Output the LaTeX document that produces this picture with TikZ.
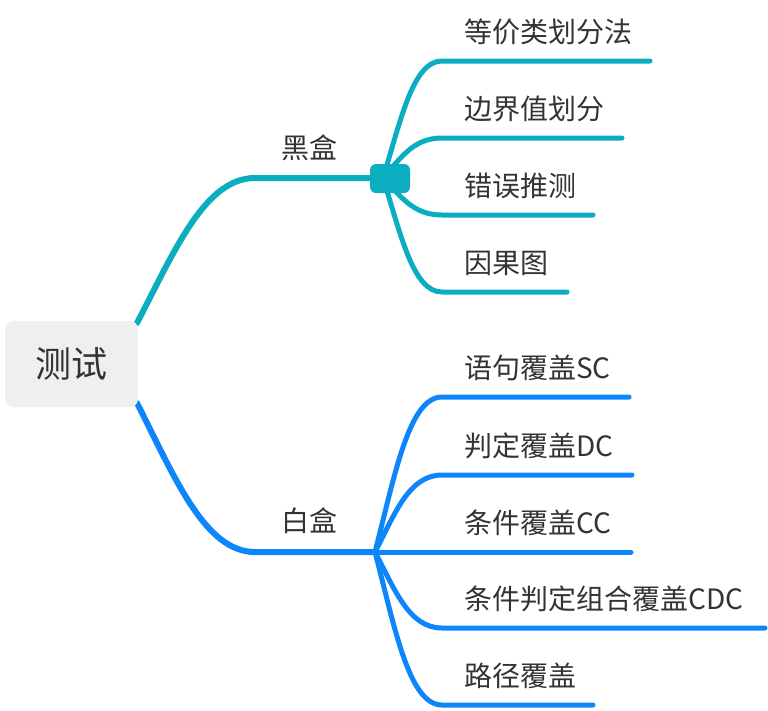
\documentclass[tikz,border=0pt]{standalone}
\usepackage{fontspec}
\setmainfont{Noto Sans CJK SC}
\definecolor{brT}{HTML}{0AAEC0}
\definecolor{brW}{HTML}{0C86FA}
\definecolor{txtc}{HTML}{333333}
\definecolor{rootfill}{HTML}{EEF0F0}
\begin{document}
\begin{tikzpicture}[x=1pt,y=-1pt,
  lbl/.style={anchor=base west, inner sep=0pt, text=txtc, font=\fontsize{28}{30}\selectfont},
  rootbox/.style={rectangle, rounded corners=8pt, fill=rootfill, minimum width=133pt, minimum height=86pt, inner sep=0pt, text=txtc, font=\fontsize{36}{40}\selectfont},
  mainT/.style={draw=brT, line width=6pt, line cap=round},
  mainW/.style={draw=brW, line width=6pt, line cap=round},
  subT/.style={draw=brT, line width=5pt, line cap=round},
  subW/.style={draw=brW, line width=5pt, line cap=round}]
\useasboundingbox (0,0) rectangle (768,710);

% anchor coordinates
\coordinate (rt) at (137,323);
\coordinate (rb) at (137,403);
\coordinate (jB) at (383,178);
\coordinate (jW) at (375,552);

% main branches
\draw[mainT] (rt) .. controls (175,250) and (205,178) .. (255,178) -- (jB);
\draw[mainW] (rb) .. controls (175,478) and (205,552) .. (255,552) -- (jW);

% black-box children line ends
\coordinate (eT1) at (650,61);
\coordinate (eT2) at (622,138);
\coordinate (eT3) at (593,215);
\coordinate (eT4) at (567,292);
\draw[subT] (jB) .. controls (401,119.5) and (413,61) .. (442,61) -- (eT1);
\draw[subT] (jB) .. controls (401,158) and (413,138) .. (442,138) -- (eT2);
\draw[subT] (jB) .. controls (401,196.5) and (413,215) .. (442,215) -- (eT3);
\draw[subT] (jB) .. controls (401,235) and (413,292) .. (442,292) -- (eT4);
\fill[brT, rounded corners=6pt] (370,164) rectangle (410,193);

% white-box children line ends
\coordinate (eW1) at (629,397);
\coordinate (eW2) at (632,475);
\coordinate (eW3) at (631,552);
\coordinate (eW4) at (765,628);
\coordinate (eW5) at (593,705);
\draw[subW] (jW) .. controls (395,474.5) and (409,397) .. (442,397) -- (eW1);
\draw[subW] (jW) .. controls (395,513.5) and (409,475) .. (442,475) -- (eW2);
\draw[subW] (jW) -- (eW3);
\draw[subW] (jW) .. controls (395,590) and (409,628) .. (442,628) -- (eW4);
\draw[subW] (jW) .. controls (395,628.5) and (409,705) .. (442,705) -- (eW5);

% root
\node[rootbox] (root) at (71.5,364) {测试};

% labels
\node[lbl] (hei) at (281,158.5) {黑盒};
\node[lbl] (bai) at (281,531.5) {白盒};

\node[lbl] (t1) at (464,42.5) {等价类划分法};
\node[lbl] (t2) at (464,119.5) {边界值划分};
\node[lbl] (t3) at (464,196.5) {错误推测};
\node[lbl] (t4) at (464,273.5) {因果图};

\node[lbl] (w1) at (464,378.5) {语句覆盖SC};
\node[lbl] (w2) at (464,456.5) {判定覆盖DC};
\node[lbl] (w3) at (464,533.5) {条件覆盖CC};
\node[lbl] (w4) at (464,609.5) {条件判定组合覆盖CDC};
\node[lbl] (w5) at (464,686.5) {路径覆盖};
\end{tikzpicture}
\end{document}
